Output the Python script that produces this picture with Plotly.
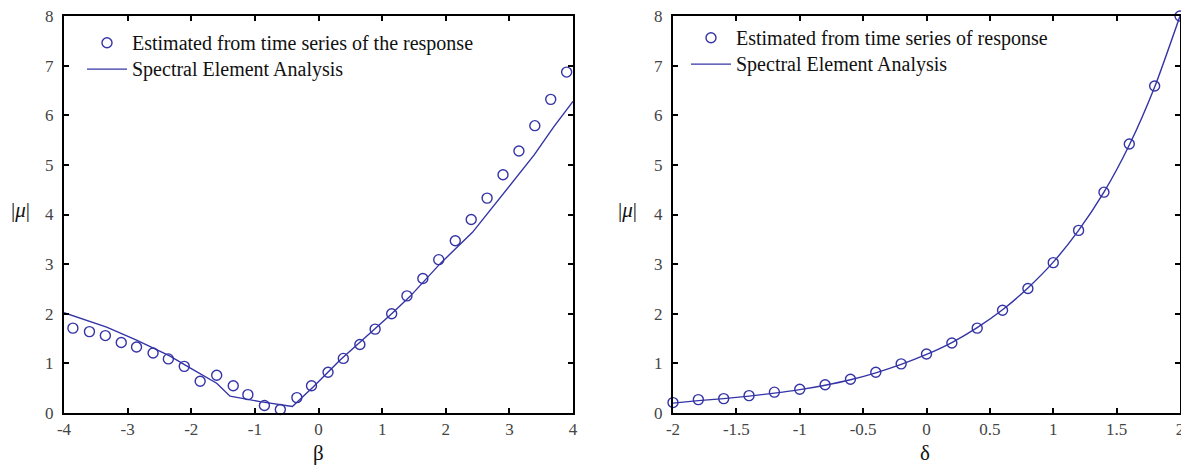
import plotly.graph_objects as go

# ---------------- data: left panel (beta) ----------------
beta_est = [-3.86, -3.60, -3.35, -3.10, -2.86, -2.60, -2.36, -2.11, -1.86, -1.60,
            -1.34, -1.11, -0.85, -0.60, -0.34, -0.11, 0.15, 0.39, 0.65, 0.89,
            1.15, 1.39, 1.64, 1.89, 2.15, 2.40, 2.65, 2.90, 3.15, 3.40, 3.65, 3.90]
mu_beta_est = [1.71, 1.64, 1.56, 1.42, 1.33, 1.21, 1.09, 0.94, 0.64, 0.76,
               0.55, 0.37, 0.15, 0.07, 0.31, 0.55, 0.82, 1.10, 1.38, 1.69,
               2.00, 2.36, 2.71, 3.09, 3.47, 3.90, 4.33, 4.80, 5.28, 5.79, 6.32, 6.87]
beta_sea = [-4.0, -3.33, -2.86, -2.70, -2.34, -2.02, -1.60, -1.39, -0.92, -0.41,
            -0.08, 0.34, 0.89, 1.15, 1.44, 1.92, 2.42, 2.91, 3.39, 3.70, 4.0]
mu_beta_sea = [2.02, 1.73, 1.47, 1.37, 1.15, 0.91, 0.60, 0.34, 0.23, 0.13,
               0.53, 1.07, 1.69, 2.00, 2.35, 3.02, 3.64, 4.43, 5.20, 5.77, 6.28]

# ---------------- data: right panel (delta) ----------------
delta_est = [-2.0, -1.8, -1.6, -1.4, -1.2, -1.0, -0.8, -0.6, -0.4, -0.2, 0.0,
             0.2, 0.4, 0.6, 0.8, 1.0, 1.2, 1.4, 1.6, 1.8, 2.0]
mu_delta_est = [0.21, 0.27, 0.29, 0.35, 0.42, 0.48, 0.57, 0.68, 0.82, 0.99, 1.19,
                1.41, 1.71, 2.07, 2.51, 3.03, 3.68, 4.45, 5.42, 6.59, 8.0]
delta_sea = [-2.0, -1.8, -1.6, -1.4, -1.2, -1.0, -0.8, -0.6, -0.4, -0.2, 0.0,
             0.2, 0.4, 0.6, 0.8, 1.0, 1.2, 1.4, 1.6, 1.8, 2.0]
mu_delta_sea = [0.20, 0.25, 0.29, 0.34, 0.40, 0.47, 0.56, 0.67, 0.81, 0.98, 1.18,
                1.42, 1.72, 2.08, 2.52, 3.04, 3.68, 4.45, 5.40, 6.57, 8.0]

# ---------------- tick labels ----------------
beta_ticks = [-4, -3, -2, -1, 0, 1, 2, 3, 4]
beta_ticktext = ["-4", "-3", "-2", "-1", "0", "1", "2", "3", "4"]
delta_ticks = [-2, -1.5, -1, -0.5, 0, 0.5, 1, 1.5, 2]
delta_ticktext = ["-2", "-1.5", "-1", "-0.5", "0", "0.5", "1", "1.5", "2"]
mu_ticks = [0, 1, 2, 3, 4, 5, 6, 7, 8]
mu_ticktext = ["0", "1", "2", "3", "4", "5", "6", "7", "8"]

# legend names
name_est_left = "Estimated from time series of the response"
name_est_right = "Estimated from time series of response"
name_sea = "Spectral Element Analysis"

BLUE = "#3434a6"
FONT = "Liberation Serif"
W, H = 1181, 466


def big(txt):
    return "<span style='font-size:20px'>" + txt + "</span>"


fig = go.Figure()

fig.add_trace(go.Scatter(x=beta_est, y=mu_beta_est, mode="markers",
                         name=big(name_est_left), cliponaxis=False,
                         marker=dict(symbol="circle-open", size=10, color=BLUE,
                                     line=dict(width=1.4, color=BLUE)),
                         xaxis="x", yaxis="y", legend="legend"))
fig.add_trace(go.Scatter(x=beta_sea, y=mu_beta_sea, mode="lines",
                         name=big(name_sea),
                         line=dict(color=BLUE, width=1.4),
                         xaxis="x", yaxis="y", legend="legend"))
fig.add_trace(go.Scatter(x=delta_est, y=mu_delta_est, mode="markers",
                         name=big(name_est_right), cliponaxis=False,
                         marker=dict(symbol="circle-open", size=10, color=BLUE,
                                     line=dict(width=1.4, color=BLUE)),
                         xaxis="x2", yaxis="y2", legend="legend2"))
fig.add_trace(go.Scatter(x=delta_sea, y=mu_delta_sea, mode="lines",
                         name=big(name_sea),
                         line=dict(color=BLUE, width=1.4, shape="spline", smoothing=0.6),
                         xaxis="x2", yaxis="y2", legend="legend2"))


def px_x(p):
    return p / W


def px_y(p):
    return 1 - p / H


axis_common = dict(showgrid=False, zeroline=False, showline=True, linecolor="black",
                   linewidth=2, mirror="ticks", ticks="inside", ticklen=5,
                   tickwidth=1.5, tickcolor="black", automargin=False,
                   ticklabeloverflow="allow",
                   tickfont=dict(family=FONT, size=17, color="#444444"))

legend_common = dict(font=dict(family=FONT, size=18, color="#111111"),
                     bgcolor="rgba(0,0,0,0)", borderwidth=0, itemwidth=40,
                     xanchor="left", yanchor="top",
                     itemclick=False, itemdoubleclick=False)

fig.update_layout(
    width=W, height=H,
    margin=dict(l=0, r=0, t=0, b=0, autoexpand=False),
    plot_bgcolor="white", paper_bgcolor="white",
    showlegend=True,
    xaxis=dict(domain=[px_x(64), px_x(573)], range=[-4, 4], anchor="y",
               tickvals=beta_ticks, ticktext=beta_ticktext, **axis_common),
    yaxis=dict(domain=[px_y(413), px_y(16)], range=[0, 8], anchor="x",
               tickvals=mu_ticks, ticktext=mu_ticktext, ticklabelstandoff=5,
               **axis_common),
    xaxis2=dict(domain=[px_x(673), px_x(1180)], range=[-2, 2], anchor="y2",
                tickvals=delta_ticks, ticktext=delta_ticktext, **axis_common),
    yaxis2=dict(domain=[px_y(413), px_y(16)], range=[0, 8], anchor="x2",
                tickvals=mu_ticks, ticktext=mu_ticktext, ticklabelstandoff=5,
                **axis_common),
    legend=dict(x=px_x(82), y=px_y(24.5), **legend_common),
    legend2=dict(x=px_x(686), y=px_y(19.5), **legend_common),
)

ann_font = dict(family=FONT, size=21, color="#111111")
fig.add_annotation(text="β", x=px_x(318), y=px_y(453), xref="paper", yref="paper",
                   xanchor="center", yanchor="middle", showarrow=False, font=ann_font)
fig.add_annotation(text="δ", x=px_x(925), y=px_y(453), xref="paper", yref="paper",
                   xanchor="center", yanchor="middle", showarrow=False, font=ann_font)
fig.add_annotation(text="|<i>μ</i>|", x=px_x(20), y=px_y(210), xref="paper", yref="paper",
                   xanchor="center", yanchor="middle", showarrow=False,
                   font=dict(family=FONT, size=21, color="#111111"))
fig.add_annotation(text="|<i>μ</i>|", x=px_x(627), y=px_y(210), xref="paper", yref="paper",
                   xanchor="center", yanchor="middle", showarrow=False,
                   font=dict(family=FONT, size=21, color="#111111"))

fig.write_html("out.html", post_script="document.body.style.margin='0';",
               config={"displayModeBar": False})
